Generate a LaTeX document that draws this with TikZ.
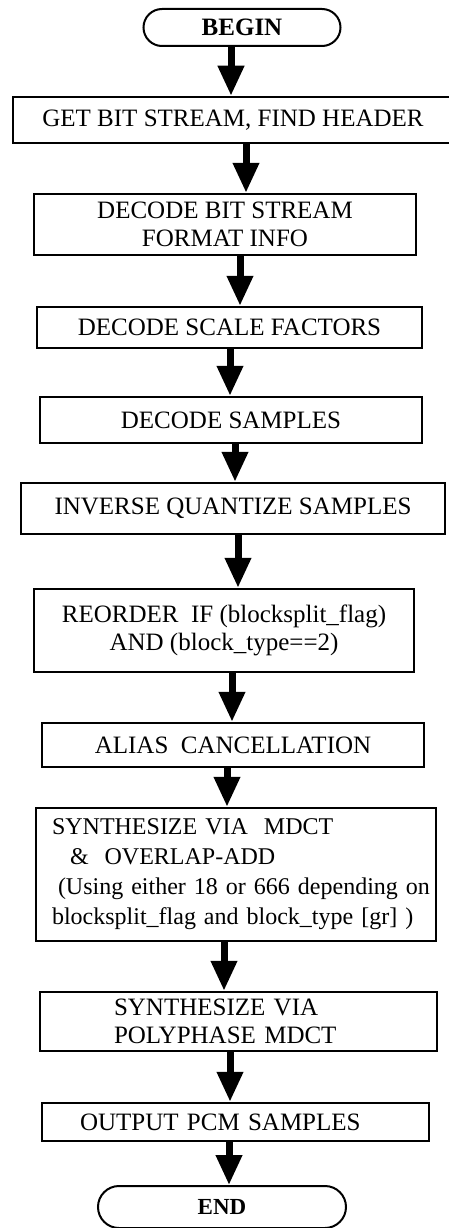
\documentclass[tikz,border=0pt]{standalone}
\usepackage{fontspec}
\setmainfont{Liberation Serif}
\usetikzlibrary{arrows.meta,shapes.misc}

\begin{document}
\begin{tikzpicture}[x=1pt,y=-1pt,
  box/.style={draw,line width=2.5pt,inner sep=0pt,align=center,font=\fontsize{25}{28}\selectfont},
  leftbox/.style={box,align=left,text width=#1},
  term/.style={draw,rounded rectangle,line width=2pt,inner sep=0pt,font=\fontsize{25}{30}\selectfont\bfseries},
  flow/.style={line width=7pt,-{Triangle[length=30pt,width=25pt]}}]
\useasboundingbox (0,0) rectangle (449,1228);
\node[term,minimum width=197pt,minimum height=37pt] (begin) at (242,27.5) {BEGIN};
\node[box,minimum width=440pt,minimum height=46pt] (getbits) at (233,120) {GET BIT STREAM, FIND HEADER};
\node[box,minimum width=382pt,minimum height=61pt] (format) at (225,224.5) {DECODE BIT STREAM\\FORMAT INFO};
\node[box,minimum width=385pt,minimum height=41pt] (scalef) at (229.5,327.5) {DECODE SCALE FACTORS};
\node[box,minimum width=382pt,minimum height=46pt] (samples) at (231,420) {DECODE SAMPLES};
\node[box,minimum width=424pt,minimum height=51pt] (invq) at (233,508.5) {INVERSE QUANTIZE SAMPLES};
\node[box,minimum width=380pt,minimum height=83pt] (reorder) at (224,630.5) {REORDER\ \ IF (blocksplit\_flag)\\AND (block\_type==2)};
\node[box,minimum width=382pt,minimum height=44pt] (alias) at (233,745) {ALIAS\ \ CANCELLATION};
\node[leftbox=392pt,inner xsep=4pt,minimum height=133pt,font=\fontsize{24}{30}\selectfont] (mdct) at (236,874.5)
  {\hspace*{12pt}SYNTHESIZE VIA\ \ MDCT\\\hspace*{30pt}\&\ \ OVERLAP-ADD\\\hspace*{18pt}(Using either 18 or 666 depending on\\\hspace*{12pt}blocksplit\_flag and block\_type [gr] )};
\node[leftbox=249pt,inner xsep=74pt,minimum height=59pt] (poly) at (238.5,1021.5) {SYNTHESIZE VIA\\POLYPHASE MDCT};
\node[leftbox=311pt,inner xsep=38pt,minimum height=38pt] (pcm) at (235.5,1122) {OUTPUT PCM SAMPLES};
\node[term,minimum width=248pt,minimum height=42pt,font=\fontsize{23}{28}\selectfont\bfseries] (end) at (222,1207) {END};
\foreach \a/\b/\x in {begin/getbits/231,getbits/format/246,format/scalef/240,scalef/samples/230,
  samples/invq/235,invq/reorder/238,reorder/alias/232,alias/mdct/227,mdct/poly/224,poly/pcm/230,pcm/end/229}
  \draw[flow] (\x,0 |- \a.south) -- (\x,0 |- \b.north);
\end{tikzpicture}
\end{document}
